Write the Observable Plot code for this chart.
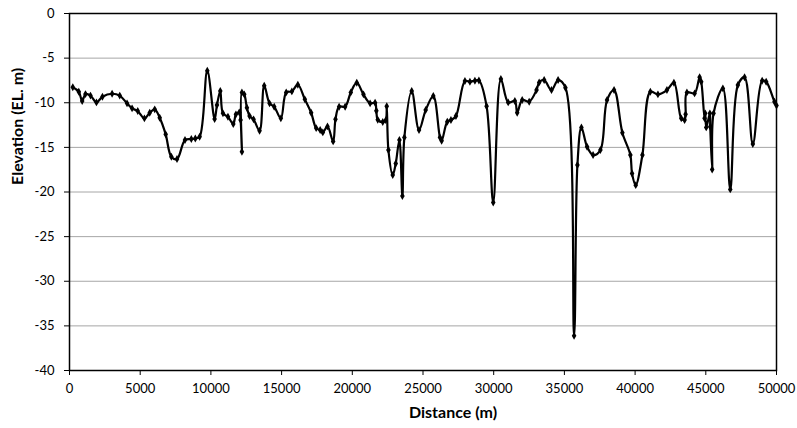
<!DOCTYPE html>
<html><head><meta charset="utf-8">
<script src="https://cdn.jsdelivr.net/npm/d3@7"></script>
<script src="https://cdn.jsdelivr.net/npm/@observablehq/plot@0.6"></script>
<style>body{margin:0;background:#fff;}</style>
</head><body><div id="chart"></div>
<script>
const distance = [233,657,897,1130,1483,1907,2330,3013,3553,4070,4425,4827,5297,5673,6027,6380,6803,7203,7604,8167,8615,8898,9203,9745,10263,10430,10663,10853,11206,11582,11770,12005,12100,12194,12194,12358,12547,12735,13018,13442,13771,14148,14477,14948,15325,15725,16149,16643,17091,17444,17727,17915,18245,18645,18810,19068,19492,19893,20317,20788,21259,21612,21700,21800,22154,22365,22436,22554,22860,23072,23330,23542,23683,24202,24718,25190,25728,26200,26319,26717,26977,27330,27966,28318,28672,28954,29498,29967,30508,31025,31497,31662,32015,32509,33028,33216,33569,34088,34554,35073,35685,35920,36203,36603,37027,37545,38016,38511,39100,39666,39784,40044,40516,41078,41615,42251,42745,43264,43501,43571,43665,44207,44562,44677,44912,44960,45030,45290,45314,45451,45549,46208,46730,47268,47740,48326,48986,49268,49856,50000];
const elevation = [-8.27,-8.77,-9.81,-9.03,-9.2,-9.96,-9.32,-8.99,-9.2,-10.07,-10.63,-10.93,-11.75,-11.12,-10.74,-11.68,-13.54,-16.05,-16.31,-14.18,-14.07,-14.0,-13.81,-6.41,-11.83,-10.26,-8.69,-11.19,-11.57,-12.39,-11.3,-11.08,-11.94,-15.49,-8.84,-9.06,-10.56,-11.49,-11.86,-13.13,-8.09,-10.07,-10.44,-11.75,-8.84,-8.73,-7.98,-9.62,-11.12,-12.84,-13.06,-13.32,-12.65,-14.33,-11.86,-10.44,-10.44,-8.84,-7.75,-9.06,-10.07,-10.0,-10.9,-11.9,-12.15,-11.95,-10.4,-15.3,-18.1,-16.8,-14.18,-20.46,-13.88,-8.69,-13.06,-10.82,-9.25,-13.88,-14.26,-12.13,-11.94,-11.49,-7.57,-7.64,-7.53,-7.5,-10.4,-21.17,-7.34,-9.96,-9.81,-11.12,-9.7,-9.88,-8.58,-7.72,-7.46,-8.58,-7.46,-8.31,-36.12,-16.98,-12.76,-14.93,-15.86,-15.3,-9.7,-8.58,-13.36,-15.86,-17.92,-19.23,-15.86,-8.77,-9.06,-8.58,-7.75,-11.75,-11.94,-11.3,-8.84,-8.95,-7.15,-7.64,-11.75,-11.19,-12.76,-11.19,-12.69,-17.47,-11.19,-8.39,-19.71,-8.02,-7.15,-14.63,-7.53,-7.64,-9.88,-10.3];
const xTicks = [0,5000,10000,15000,20000,25000,30000,35000,40000,45000,50000];
const yTicks = [0,-5,-10,-15,-20,-25,-30,-35,-40];
const xTitle = "Distance (m)";
const yTitle = "Elevation (EL. m)";

const data = distance.map((d, i) => ({distance: d, elevation: elevation[i]}));

const chart = Plot.plot({
  width: 797, height: 428,
  marginLeft: 69, marginRight: 21, marginTop: 13, marginBottom: 58,
  style: {fontFamily: "Lato, 'Open Sans', sans-serif", fontSize: "13px", color: "#000", background: "#fff"},
  x: {domain: [0, 50000]},
  y: {domain: [-40, 0]},
  marks: [
    Plot.gridY(yTicks, {stroke: "#a6a6a6", strokeOpacity: 1, strokeWidth: 1}),
    Plot.line(data, {x: "distance", y: "elevation", curve: "catmull-rom", stroke: "black", strokeWidth: 2.2}),
    Plot.dot(data, {x: "distance", y: "elevation", symbol: "diamond", r: 2.4, fill: "black", stroke: "none"}),
    Plot.frame({stroke: "black", strokeWidth: 1.5}),
    Plot.axisX(xTicks, {tickSize: 5, tickPadding: 8, tickFormat: d => String(d), label: null, stroke: "black"}),
    Plot.axisY(yTicks, {tickSize: 5, tickPadding: 10, tickFormat: d => String(d), label: null, stroke: "black"}),
    Plot.text([xTitle], {text: d => d, frameAnchor: "bottom", dx: 30, dy: 47, fontWeight: "bold", fontSize: 16}),
    Plot.text([yTitle], {text: d => d, frameAnchor: "left", dx: -52, dy: -7, rotate: -90, fontWeight: "bold", fontSize: 16})
  ]
});
document.getElementById("chart").appendChild(chart);
</script>
</body></html>
